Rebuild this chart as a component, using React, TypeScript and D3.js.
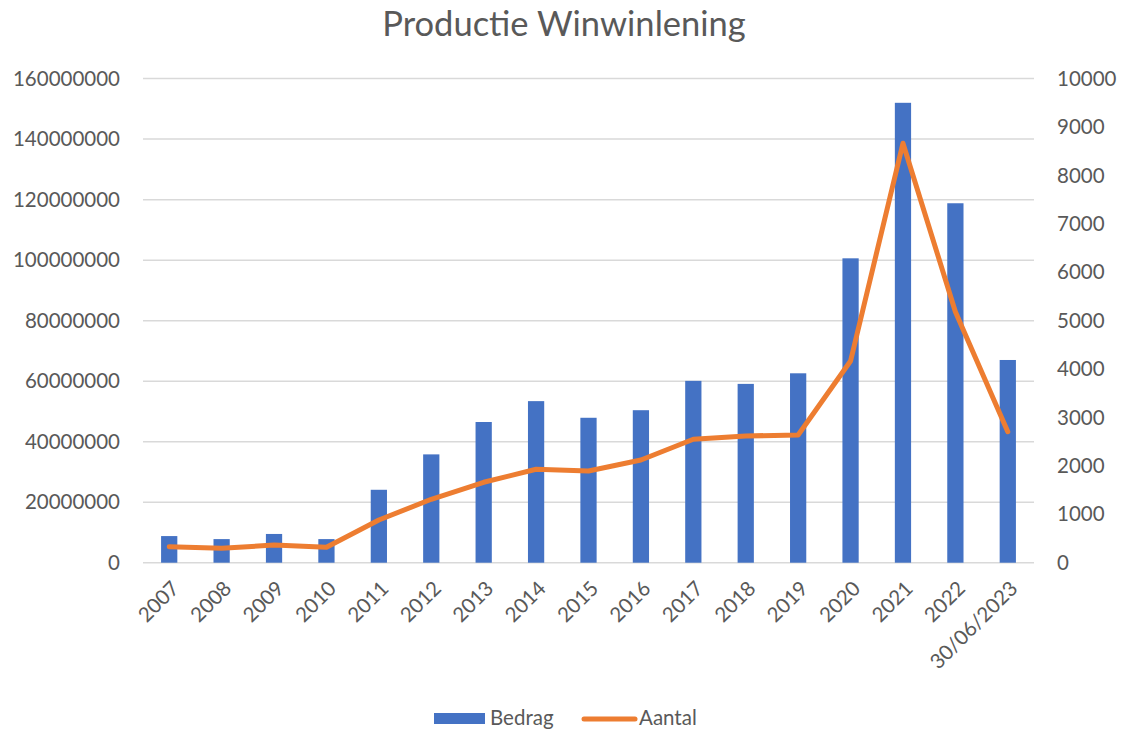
// App.tsx
import React, { useEffect, useRef } from 'react';
import * as d3 from 'd3';

const categories = [
  '2007', '2008', '2009', '2010', '2011', '2012', '2013', '2014', '2015',
  '2016', '2017', '2018', '2019', '2020', '2021', '2022', '30/06/2023',
];

// Bedrag (left axis, euro)
const bedrag = [
  8800000, 7800000, 9500000, 7800000, 24100000, 35800000, 46500000, 53400000,
  47900000, 50400000, 60100000, 59100000, 62600000, 100600000, 152000000,
  118800000, 67000000,
];

// Aantal (right axis)
const aantal = [
  330, 297, 366, 318, 882, 1310, 1661, 1930, 1895, 2122, 2550, 2618, 2638,
  4167, 8665, 5186, 2706,
];

const leftTicks = [0, 20000000, 40000000, 60000000, 80000000, 100000000, 120000000, 140000000, 160000000];
const rightTicks = [0, 1000, 2000, 3000, 4000, 5000, 6000, 7000, 8000, 9000, 10000];

const W = 1123;
const H = 731;
const FONT = 'Lato, "Open Sans", sans-serif';
const TEXT = '#595959';

const App: React.FC = () => {
  const chartRef = useRef<SVGSVGElement>(null);

  useEffect(() => {
    document.body.style.margin = '0';
    if (!chartRef.current) return;

    const margin = { top: 78.6, right: 89, bottom: 168.3, left: 143 };
    const width = W - margin.left - margin.right;
    const height = H - margin.top - margin.bottom;

    const root = d3.select(chartRef.current);
    root.selectAll('*').remove();

    root
      .append('rect')
      .attr('width', W)
      .attr('height', H)
      .attr('fill', '#ffffff');

    // title
    root
      .append('text')
      .attr('x', 564)
      .attr('y', 36)
      .attr('text-anchor', 'middle')
      .attr('font-family', FONT)
      .attr('font-size', 34.5)
      .attr('fill', TEXT)
      .text('Productie Winwinlening');

    const svg = root
      .append('g')
      .attr('transform', 'translate(' + margin.left + ',' + margin.top + ')');

    const x = d3.scaleBand().domain(categories).range([0, width]).padding(0);

    const yLeft = d3.scaleLinear().domain([0, 160000000]).range([height, 0]);
    const yRight = d3.scaleLinear().domain([0, 10000]).range([height, 0]);

    // gridlines
    svg
      .append('g')
      .selectAll('line')
      .data(leftTicks)
      .join('line')
      .attr('x1', 0)
      .attr('x2', width)
      .attr('y1', (d) => yLeft(d))
      .attr('y2', (d) => yLeft(d))
      .attr('stroke', '#d9d9d9')
      .attr('stroke-width', 1.5);

    // left axis labels
    svg
      .append('g')
      .selectAll('text')
      .data(leftTicks)
      .join('text')
      .attr('x', -23)
      .attr('y', (d) => yLeft(d))
      .attr('dy', '0.35em')
      .attr('text-anchor', 'end')
      .attr('font-family', FONT)
      .attr('font-size', 20.5)
      .attr('fill', TEXT)
      .text((d) => String(d));

    // right axis labels
    svg
      .append('g')
      .selectAll('text')
      .data(rightTicks)
      .join('text')
      .attr('x', width + 23)
      .attr('y', (d) => yRight(d))
      .attr('dy', '0.35em')
      .attr('text-anchor', 'start')
      .attr('font-family', FONT)
      .attr('font-size', 20.5)
      .attr('fill', TEXT)
      .text((d) => String(d));

    // bars
    const barW = x.bandwidth() * 0.31;
    svg
      .append('g')
      .selectAll('rect')
      .data(bedrag)
      .join('rect')
      .attr('x', (d, i) => x(categories[i])! + x.bandwidth() / 2 - barW / 2)
      .attr('y', (d) => yLeft(d))
      .attr('width', barW)
      .attr('height', (d) => height - yLeft(d))
      .attr('fill', '#4472C4');

    // line
    const line = d3
      .line<number>()
      .x((d, i) => x(categories[i])! + x.bandwidth() / 2)
      .y((d) => yRight(d));

    svg
      .append('path')
      .datum(aantal)
      .attr('fill', 'none')
      .attr('stroke', '#ED7D31')
      .attr('stroke-width', 5)
      .attr('stroke-linejoin', 'round')
      .attr('stroke-linecap', 'round')
      .attr('d', line);

    // x labels
    svg
      .append('g')
      .selectAll('text')
      .data(categories)
      .join('text')
      .attr(
        'transform',
        (d) => 'translate(' + (x(d)! + x.bandwidth() / 2 + 6) + ',' + (height + 22) + ') rotate(-45)'
      )
      .attr('dy', '0.35em')
      .attr('text-anchor', 'end')
      .attr('font-family', FONT)
      .attr('font-size', 20.5)
      .attr('fill', TEXT)
      .text((d) => d);

    // legend
    const legend = root.append('g');
    legend
      .append('rect')
      .attr('x', 434)
      .attr('y', 713)
      .attr('width', 51)
      .attr('height', 11)
      .attr('fill', '#4472C4');
    legend
      .append('text')
      .attr('x', 490)
      .attr('y', 725)
      .attr('font-family', FONT)
      .attr('font-size', 20.5)
      .attr('fill', TEXT)
      .text('Bedrag');
    legend
      .append('line')
      .attr('x1', 584)
      .attr('x2', 635)
      .attr('y1', 719)
      .attr('y2', 719)
      .attr('stroke', '#ED7D31')
      .attr('stroke-width', 5)
      .attr('stroke-linecap', 'round');
    legend
      .append('text')
      .attr('x', 639)
      .attr('y', 725)
      .attr('font-family', FONT)
      .attr('font-size', 20.5)
      .attr('fill', TEXT)
      .text('Aantal');
  }, []);

  return <svg ref={chartRef} width={W} height={H} style={{ display: 'block' }}></svg>;
};

export default App;
